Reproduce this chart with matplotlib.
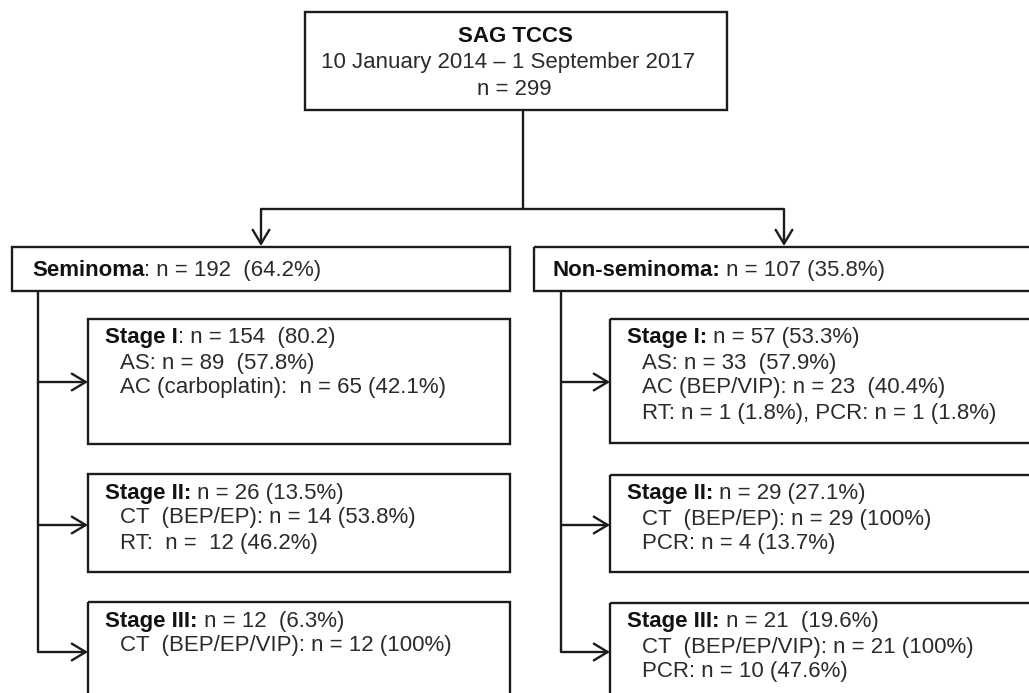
import matplotlib
matplotlib.use("Agg")
import matplotlib.pyplot as plt
from matplotlib.patches import Rectangle, FancyArrowPatch

plt.rcParams['font.family'] = ['Liberation Sans', 'DejaVu Sans']

# --- chart content ---
cohort_title = "SAG TCCS"
cohort_period = "10 January 2014 \u2013 1 September 2017"
cohort_n = 299

histology_heads = ["Seminoma", "Non-seminoma:"]
histology_rest = [": n = 192  (64.2%)", " n = 107 (35.8%)"]

sem_heads = ["Stage I", "Stage II:", "Stage III:"]
sem_rest = [": n = 154  (80.2)", " n = 26 (13.5%)", " n = 12  (6.3%)"]
sem_details = [
    ["AS: n = 89  (57.8%)", "AC (carboplatin):  n = 65 (42.1%)"],
    ["CT  (BEP/EP): n = 14 (53.8%)", "RT:  n =  12 (46.2%)"],
    ["CT  (BEP/EP/VIP): n = 12 (100%)"],
]

nonsem_heads = ["Stage I:", "Stage II:", "Stage III:"]
nonsem_rest = [" n = 57 (53.3%)", " n = 29 (27.1%)", " n = 21  (19.6%)"]
nonsem_details = [
    ["AS: n = 33  (57.9%)", "AC (BEP/VIP): n = 23  (40.4%)", "RT: n = 1 (1.8%), PCR: n = 1 (1.8%)"],
    ["CT  (BEP/EP): n = 29 (100%)", "PCR: n = 4 (13.7%)"],
    ["CT  (BEP/EP/VIP): n = 21 (100%)", "PCR: n = 10 (47.6%)"],
]

# --- layout (pixel space) ---
W, H = 1029, 693
LINE = '#1c1c1c'
TXT = '#2b2b2b'
FS = 16
LW = 1.7

fig = plt.figure(figsize=(W / 100, H / 100), dpi=100)
ax = fig.add_axes([0, 0, 1, 1])
ax.set_xlim(0, W)
ax.set_ylim(H, 0)
ax.axis('off')


def box(x0, y0, x1, y1):
    ax.add_patch(Rectangle((x0, y0), x1 - x0, y1 - y0, fill=False,
                           edgecolor=LINE, lw=LW))


def line(xs, ys):
    ax.plot(xs, ys, color=LINE, lw=LW, solid_capstyle='butt')


def arrow(p0, p1):
    ax.add_patch(FancyArrowPatch(p0, p1, arrowstyle='->,head_length=0.5,head_width=0.3',
                                 mutation_scale=20, color=LINE, lw=LW,
                                 shrinkA=0, shrinkB=0))


def mixed(x, y, head, rest):
    t = ax.text(x, y, head, fontsize=FS, fontweight='bold', color='#111111',
                va='baseline', ha='left')
    ax.annotate(rest, xy=(1, 0), xycoords=t, fontsize=FS, color=TXT,
                va='bottom', ha='left')


# top box
box(305, 12, 727, 110)
ax.text(515, 42, cohort_title, fontsize=FS, fontweight='bold', color='#111111',
        ha='center', va='baseline')
ax.text(508, 68, cohort_period, fontsize=FS, color=TXT, ha='center', va='baseline')
ax.text(514, 95, f"n = {cohort_n}", fontsize=FS, color=TXT, ha='center', va='baseline')

# split
line([523, 523], [110, 209])
line([261, 784], [209, 209])
arrow((261, 209), (261, 246))
arrow((784, 209), (784, 246))

# histology boxes
box(12, 247, 510, 291)
box(534, 247, 1045, 291)
mixed(32, 276, histology_heads[0], histology_rest[0])
mixed(552, 276, histology_heads[1], histology_rest[1])

# stage boxes
sem_tops = [319, 474, 602]
sem_bottoms = [444, 572, 710]
nonsem_tops = [319, 475, 603]
nonsem_bottoms = [443, 572, 710]
arrow_ys = [382, 525, 652]

for col, (bx, vx, tops, bottoms, heads, rests, details) in enumerate([
        (88, 38, sem_tops, sem_bottoms, sem_heads, sem_rest, sem_details),
        (610, 561, nonsem_tops, nonsem_bottoms, nonsem_heads, nonsem_rest, nonsem_details)]):
    right = 510 if col == 0 else 1045
    line([vx, vx], [291, arrow_ys[-1]])
    for i in range(len(heads)):
        box(bx, tops[i], right, bottoms[i])
        arrow((vx, arrow_ys[i]), (bx, arrow_ys[i]))
        base = tops[i] + 24.5
        mixed(bx + 17, base, heads[i], rests[i])
        for k, d in enumerate(details[i]):
            ax.text(bx + 32, base + 25 * (k + 1), d, fontsize=FS, color=TXT,
                    ha='left', va='baseline')

fig.savefig('out.png', dpi=100, facecolor='white')
